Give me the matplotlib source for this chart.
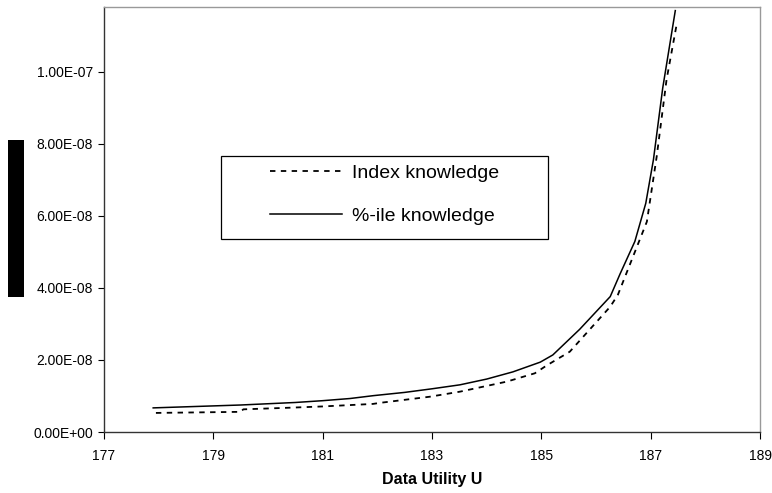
import matplotlib
matplotlib.use("Agg")
import matplotlib.pyplot as plt
from matplotlib.patches import Rectangle
from matplotlib.ticker import FuncFormatter

plt.rcParams['font.family'] = ['Liberation Sans', 'DejaVu Sans']

# %-ile knowledge (solid)
pct_x = [177.9, 178.5, 179.5, 180.5, 181.0, 181.5, 181.93, 182.5, 183.0, 183.51,
         184.0, 184.48, 184.98, 185.21, 185.7, 186.26, 186.44, 186.71, 186.91,
         187.05, 187.22, 187.45]
pct_y = [6.7, 7.0, 7.5, 8.2, 8.7, 9.3, 10.1, 11.0, 12.0, 13.1,
         14.7, 16.7, 19.4, 21.4, 28.5, 37.6, 43.9, 52.9, 63.5,
         75.6, 95.5, 117.0]

# Index knowledge (dashed)
idx_x = [177.95, 179.49, 179.55, 180.4, 181.0, 181.92, 182.05, 182.96, 183.51,
         184.37, 184.88, 185.1, 185.52, 186.26, 186.4, 186.93, 187.11, 187.29, 187.48]
idx_y = [5.3, 5.6, 6.3, 6.75, 7.1, 7.8, 8.1, 9.8, 11.2,
         14.0, 16.3, 18.5, 22.3, 34.8, 38.1, 58.4, 76.5, 97.8, 113.6]

x_ticks = [177, 179, 181, 183, 185, 187, 189]
y_ticks = [0, 2e-8, 4e-8, 6e-8, 8e-8, 1e-7]

fig = plt.figure(figsize=(7.72, 4.93), dpi=100)
ax = fig.add_axes([0.1347, 0.1237, 0.8498, 0.8621])

ax.plot(idx_x, [v * 1e-9 for v in idx_y], color='black', lw=1.3,
        linestyle=(0, (3, 3)), label='Index knowledge')
ax.plot(pct_x, [v * 1e-9 for v in pct_y], color='black', lw=1.1,
        label='%-ile knowledge')

ax.set_xlim(177, 189)
ax.set_ylim(0, 1.18e-7)
ax.set_xticks(x_ticks)
ax.set_yticks(y_ticks)
ax.yaxis.set_major_formatter(FuncFormatter(lambda v, p: f"{v:.2E}"))
ax.tick_params(axis='y', labelsize=10, length=4, width=0.8, pad=4)
ax.tick_params(axis='x', labelsize=10, length=5, width=0.8, pad=7)

for s in ['left', 'bottom']:
    ax.spines[s].set_color('#333333')
    ax.spines[s].set_linewidth(1.0)
for s in ['top', 'right']:
    ax.spines[s].set_color('#999999')
    ax.spines[s].set_linewidth(1.0)

ax.set_xlabel('Data Utility U', fontsize=11.5, fontweight='bold', labelpad=7)

# legend box
ax.add_patch(Rectangle((221 / 772, 1 - 239 / 493), 327 / 772, 83 / 493,
                       transform=fig.transFigure, facecolor='white',
                       edgecolor='black', lw=0.9, zorder=3))
leg = ax.legend(loc='center', bbox_to_anchor=(384.5 / 772, 1 - 194.5 / 493),
                bbox_transform=fig.transFigure, frameon=False, fontsize=14,
                handlelength=3.7, handletextpad=0.5, labelspacing=1.3)
leg.set_zorder(4)

# black bar at left
fig.patches.append(Rectangle((8 / 772, 1 - 297 / 493), 16 / 772, 157 / 493,
                             transform=fig.transFigure, facecolor='black',
                             edgecolor='none'))

fig.savefig('out.png', dpi=100)
